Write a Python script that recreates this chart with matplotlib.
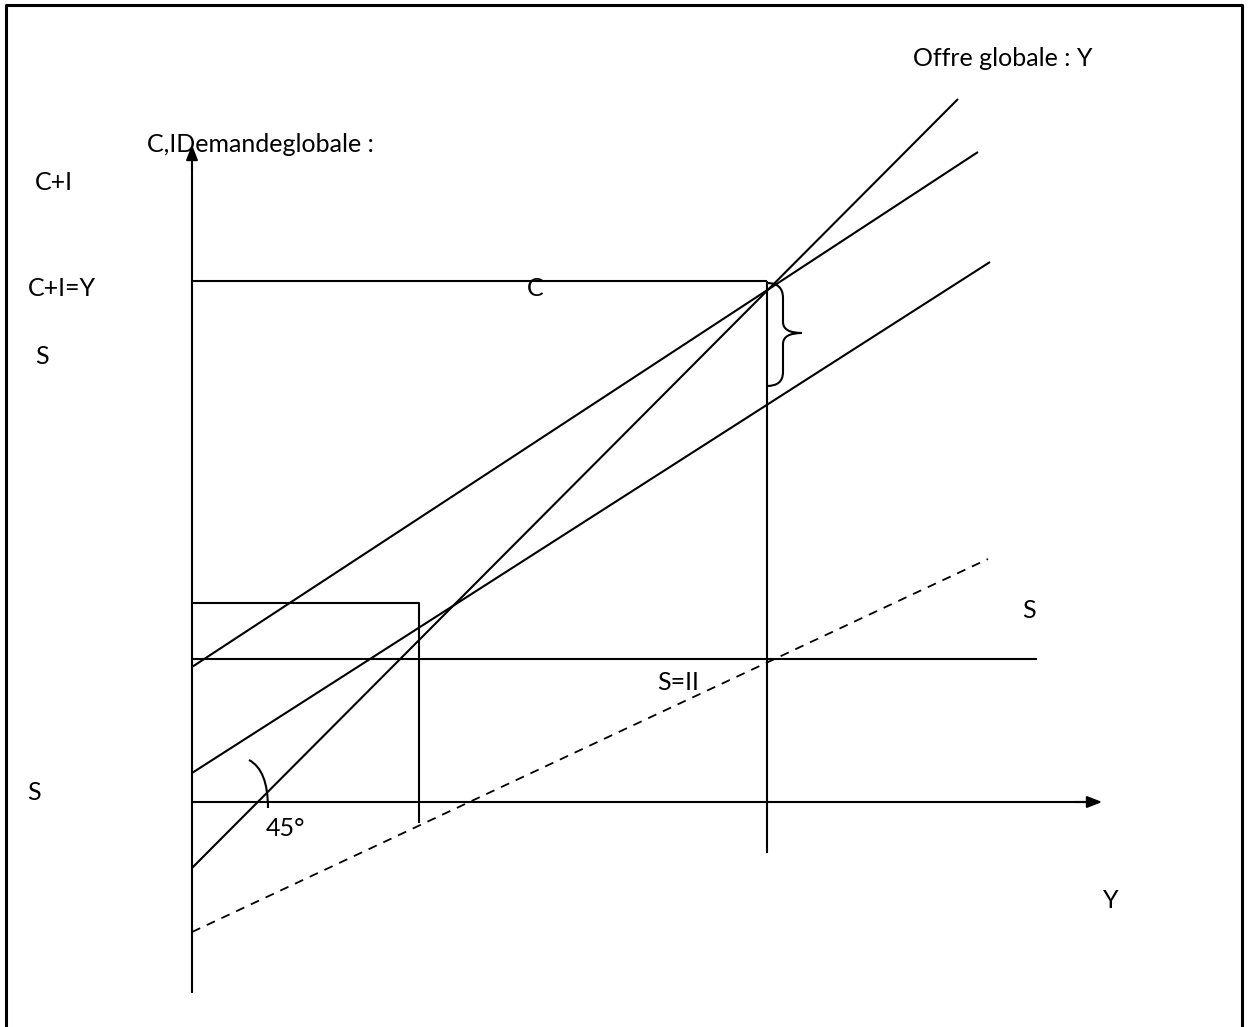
import matplotlib.pyplot as plt
from matplotlib.path import Path
from matplotlib.patches import PathPatch

# diagram coordinates: origin where the two axes cross, y up (1 unit ~ 1 px)
line_y_x = [0, 766]          # 45 degree line "Offre globale : Y"
line_y_y = [-66, 703]
line_ci_x = [0, 786]         # C+I
line_ci_y = [135, 650]
line_c_x = [0, 798]          # C
line_c_y = [29, 540]
line_s_x = [0, 796]          # S (dashed)
line_s_y = [-130, 243]
line_i_x = [0, 845]          # I
line_i_y = [143, 143]

y_eq = 575                   # equilibrium income
ci_eq = 521                  # C+I=Y level
rect_x = 227                 # small rectangle
rect_y = 199

brace_x = [575, 591, 591, 591, 591, 610, 591, 591, 591, 591, 575]
brace_y = [519, 519, 504, 480, 469, 469, 469, 458, 430, 416, 416]

labels = ['Offre globale : Y', 'C,IDemandeglobale :', 'C+I', 'C+I=Y', 'C', 'S',
          'S', 'S=II', 'S', '45°', 'Y']
label_x = [721, -45, -157, -164, 335, -157, 830, 465, -165, 74, 911]
label_y = [744, 657, 619, 514, 514, 445, 192, 120, 10, -26, -98]

fig = plt.figure(figsize=(12.5, 10.27), dpi=100)
ax = fig.add_axes([0, 0, 1, 1])
ax.set_xlim(-192, 1058)
ax.set_ylim(-225, 802)
ax.axis('off')
plt.rcParams['font.family'] = ['Lato', 'DejaVu Sans']

k = dict(color='black', lw=1.5, solid_capstyle='butt')

# frame (open at the bottom)
ax.plot([-186, -186, 1050, 1050], [-225, 797, 797, -225], color='black', lw=2.2)

# axes with arrow heads
ax.plot([0, 0], [-191, 645], **k)
ax.plot([0, 900], [0, 0], **k)
ax.annotate('', xy=(0, 660), xytext=(0, 630),
            arrowprops=dict(arrowstyle='-|>,head_length=0.9,head_width=0.35', color='black', lw=1.5))
ax.annotate('', xy=(913, 0), xytext=(880, 0),
            arrowprops=dict(arrowstyle='-|>,head_length=0.9,head_width=0.35', color='black', lw=1.5))

ax.plot(line_y_x, line_y_y, **k)
ax.plot(line_ci_x, line_ci_y, **k)
ax.plot(line_c_x, line_c_y, **k)
ax.plot(line_i_x, line_i_y, **k)
ax.plot(line_s_x, line_s_y, color='black', lw=1.3, dashes=(5, 4))

# equilibrium guides
ax.plot([0, y_eq], [ci_eq, ci_eq], **k)
ax.plot([y_eq, y_eq], [ci_eq, -51], **k)
ax.plot([0, rect_x, rect_x], [rect_y, rect_y, -21], **k)

# brace
codes = [Path.MOVETO, Path.CURVE3, Path.CURVE3, Path.LINETO, Path.CURVE3, Path.CURVE3,
         Path.CURVE3, Path.CURVE3, Path.LINETO, Path.CURVE3, Path.CURVE3]
pts = list(zip(brace_x, brace_y))
ax.add_patch(PathPatch(Path(pts, codes), fill=False, lw=1.5, color='black'))

# 45 degree arc
arc = Path([(57, 42), (76, 32), (76, -6)], [Path.MOVETO, Path.CURVE3, Path.CURVE3])
ax.add_patch(PathPatch(arc, fill=False, lw=1.5, color='black'))

for t, x, y in zip(labels, label_x, label_y):
    ax.text(x, y, t, fontsize=18, ha='left', va='center')

fig.savefig('out.png', dpi=100)
